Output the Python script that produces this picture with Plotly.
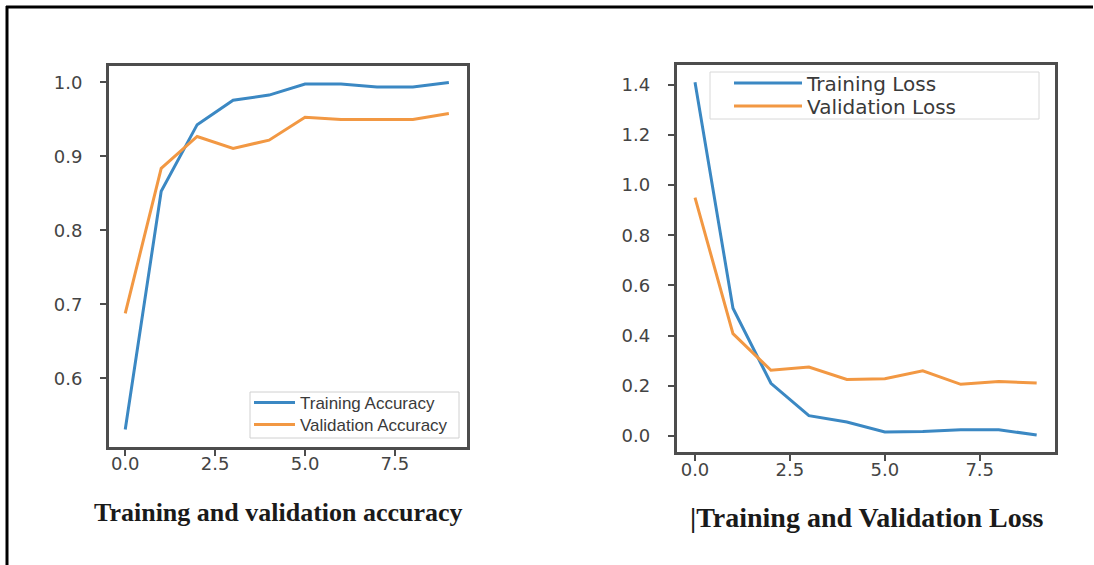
import plotly.graph_objects as go

W, H = 1094, 565

epochs = [0, 1, 2, 3, 4, 5, 6, 7, 8, 9]
train_acc = [0.531, 0.853, 0.943, 0.976, 0.983, 0.998, 0.998, 0.994, 0.994, 1.000]
val_acc = [0.688, 0.884, 0.927, 0.911, 0.922, 0.953, 0.950, 0.950, 0.950, 0.958]
train_loss = [1.410, 0.509, 0.210, 0.081, 0.056, 0.016, 0.018, 0.025, 0.025, 0.004]
val_loss = [0.950, 0.408, 0.262, 0.275, 0.225, 0.228, 0.260, 0.206, 0.217, 0.211]

x_ticks = [0.0, 2.5, 5.0, 7.5]
x_tick_labels = ["0.0", "2.5", "5.0", "7.5"]
acc_ticks = [0.6, 0.7, 0.8, 0.9, 1.0]
acc_tick_labels = ["0.6", "0.7", "0.8", "0.9", "1.0"]
loss_ticks = [0.0, 0.2, 0.4, 0.6, 0.8, 1.0, 1.2, 1.4]
loss_tick_labels = ["0.0", "0.2", "0.4", "0.6", "0.8", "1.0", "1.2", "1.4"]

caption_acc = "Training and validation accuracy"
caption_loss = "|Training and Validation Loss"

BLUE = "#3b88c3"
ORANGE = "#f29843"


def px_x(p):
    return p / W


def px_y(p):
    return (H - p) / H


fig = go.Figure()
fig.add_trace(go.Scatter(x=epochs, y=train_acc, mode="lines", name="Training Accuracy",
                         line=dict(color=BLUE, width=3), xaxis="x", yaxis="y", legend="legend"))
fig.add_trace(go.Scatter(x=epochs, y=val_acc, mode="lines", name="Validation Accuracy",
                         line=dict(color=ORANGE, width=3), xaxis="x", yaxis="y", legend="legend2"))
fig.add_trace(go.Scatter(x=epochs, y=train_loss, mode="lines", name="Training Loss",
                         line=dict(color=BLUE, width=3), xaxis="x2", yaxis="y2", legend="legend3"))
fig.add_trace(go.Scatter(x=epochs, y=val_loss, mode="lines", name="Validation Loss",
                         line=dict(color=ORANGE, width=3), xaxis="x2", yaxis="y2", legend="legend4"))

tickfont = dict(family="DejaVu Sans", size=18, color="#444444")
axis_common = dict(showline=True, linecolor="#4d4d4d", linewidth=2.5, mirror=True,
                   ticks="outside", ticklen=6, tickwidth=1.5, tickcolor="#4d4d4d",
                   showgrid=False, zeroline=False, tickfont=tickfont, fixedrange=True)
yaxis_extra = dict(ticklabelstandoff=14)
xaxis_extra = dict(ticklabelstandoff=-7)

small_leg_font = dict(family="Liberation Sans", size=17, color="#3a3a3a")
big_leg_font = dict(family="DejaVu Sans", size=20, color="#3a3a3a")
leg_common = dict(bgcolor="rgba(0,0,0,0)", borderwidth=0, xanchor="left", yanchor="middle")

fig.update_layout(
    width=W, height=H,
    margin=dict(l=0, r=0, t=0, b=0),
    paper_bgcolor="white", plot_bgcolor="white",
    xaxis=dict(domain=[px_x(108.7), px_x(467.2)], range=[-0.46, 9.51], anchor="y",
               tickvals=x_ticks, ticktext=x_tick_labels, **axis_common, **xaxis_extra),
    yaxis=dict(domain=[px_y(446.8), px_y(65.9)], range=[0.5077, 1.0224], anchor="x",
               tickvals=acc_ticks, ticktext=acc_tick_labels, **axis_common, **yaxis_extra),
    xaxis2=dict(domain=[px_x(676.6), px_x(1054.9)], range=[-0.485, 9.48], anchor="y2",
                tickvals=x_ticks, ticktext=x_tick_labels, **axis_common, **xaxis_extra),
    yaxis2=dict(domain=[px_y(452.3), px_y(64.9)], range=[-0.065, 1.479], anchor="x2",
                tickvals=loss_ticks, ticktext=loss_tick_labels, **axis_common, **yaxis_extra),
    legend=dict(x=px_x(249), y=px_y(403), font=small_leg_font, itemwidth=41, **leg_common),
    legend2=dict(x=px_x(249), y=px_y(425), font=small_leg_font, itemwidth=41, **leg_common),
    legend3=dict(x=px_x(729), y=px_y(83), font=big_leg_font, itemwidth=68, **leg_common),
    legend4=dict(x=px_x(729), y=px_y(106), font=big_leg_font, itemwidth=68, **leg_common),
    showlegend=True,
    annotations=[
        dict(text="<b>" + caption_acc + "</b>", x=px_x(278), y=px_y(512), xref="paper", yref="paper",
             showarrow=False, xanchor="center", yanchor="middle",
             font=dict(family="Liberation Serif", size=26, color="#1a1a1a")),
        dict(text="<b>" + caption_loss + "</b>", x=px_x(867), y=px_y(517), xref="paper", yref="paper",
             showarrow=False, xanchor="center", yanchor="middle",
             font=dict(family="Liberation Serif", size=28, color="#1a1a1a")),
    ],
    shapes=[
        # outer frame (top and left edges)
        dict(type="line", xref="paper", yref="paper", x0=px_x(6), x1=px_x(1093), y0=px_y(7), y1=px_y(7),
             line=dict(color="black", width=3)),
        dict(type="line", xref="paper", yref="paper", x0=px_x(7), x1=px_x(7), y0=px_y(6), y1=0,
             line=dict(color="black", width=3)),
        # legend frames
        dict(type="rect", xref="paper", yref="paper", x0=px_x(250), x1=px_x(459), y0=px_y(438), y1=px_y(392),
             line=dict(color="#d0d0d0", width=1), fillcolor="white", layer="above"),
        dict(type="rect", xref="paper", yref="paper", x0=px_x(710), x1=px_x(1039), y0=px_y(119), y1=px_y(72),
             line=dict(color="#d8d8d8", width=1), fillcolor="white", layer="above"),
    ],
)

fig.write_html("out.html", config={"displayModeBar": False},
               post_script="document.body.style.margin='0px';document.body.style.overflow='hidden';")
